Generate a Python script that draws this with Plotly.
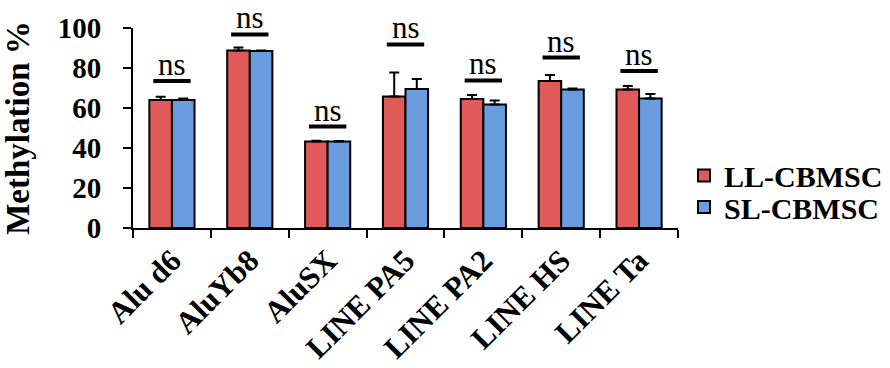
import plotly.graph_objects as go

categories = ["Alu d6", "AluYb8", "AluSX", "LINE PA5", "LINE PA2", "LINE HS", "LINE Ta"]
ll_values = [64.0, 88.7, 43.2, 65.7, 64.5, 73.5, 69.3]
ll_errors = [1.6, 1.6, 0.4, 12.0, 2.0, 3.0, 1.7]
sl_values = [64.0, 88.5, 43.2, 69.5, 61.8, 69.3, 64.8]
sl_errors = [0.7, 0.3, 0.3, 5.0, 2.0, 0.5, 2.2]
sig_labels = ["ns", "ns", "ns", "ns", "ns", "ns", "ns"]
sig_y = [73.5, 96.8, 50.7, 91.8, 73.8, 85.2, 78.5]
y_ticks = [0, 20, 40, 60, 80, 100]

FONT = "Liberation Serif"
RED = "#E05A5A"
BLUE = "#6A9DE0"

fig = go.Figure()
fig.add_trace(go.Bar(
    name="LL-CBMSC", x=categories, y=ll_values, legend="legend",
    marker=dict(color=RED, line=dict(color="black", width=2)),
    error_y=dict(type="data", symmetric=False, array=ll_errors,
                 arrayminus=[0] * len(ll_errors), color="black", thickness=2, width=5),
))
fig.add_trace(go.Bar(
    name="SL-CBMSC", x=categories, y=sl_values, legend="legend2",
    marker=dict(color=BLUE, line=dict(color="black", width=2)),
    error_y=dict(type="data", symmetric=False, array=sl_errors,
                 arrayminus=[0] * len(sl_errors), color="black", thickness=2, width=5),
))

for i, (lab, yv) in enumerate(zip(sig_labels, sig_y)):
    fig.add_shape(type="line", xref="x", yref="y", x0=i - 0.24, x1=i + 0.24,
                  y0=yv, y1=yv, line=dict(color="black", width=4))
    fig.add_annotation(x=i, y=yv, xref="x", yref="y", text=lab, showarrow=False,
                       yanchor="bottom", yshift=-2, borderpad=0,
                       font=dict(family=FONT, size=31, color="black"))

legend_font = dict(family=FONT, size=30, color="black", weight="bold")
fig.update_layout(
    width=890, height=368,
    margin=dict(l=133, r=212, t=28, b=140, autoexpand=False),
    paper_bgcolor="white", plot_bgcolor="white",
    barmode="group", bargap=0.42, bargroupgap=0,
    font=dict(family=FONT, color="black"),
    showlegend=True,
    legend=dict(x=1.011, y=0.262, xanchor="left", yanchor="middle",
                font=legend_font, bgcolor="rgba(0,0,0,0)"),
    legend2=dict(x=1.011, y=0.105, xanchor="left", yanchor="middle",
                 font=legend_font, bgcolor="rgba(0,0,0,0)"),
)
fig.update_xaxes(
    type="category", tickson="boundaries", ticks="outside", ticklen=8, tickwidth=2,
    tickcolor="black", showline=True, linecolor="black", linewidth=2,
    tickangle=-45, tickfont=dict(family=FONT, size=31, color="black", weight="bold"),
    showgrid=False, automargin=False,
)
fig.update_yaxes(
    range=[0, 100], tickvals=y_ticks, ticks="outside", ticklen=8, tickwidth=2,
    tickcolor="black", showline=True, linecolor="black", linewidth=2,
    tickfont=dict(family=FONT, size=29, color="black", weight="bold"),
    ticklabelstandoff=16,
    showgrid=False, zeroline=False, automargin=False,
    title=dict(text="Methylation %", standoff=20,
               font=dict(family=FONT, size=33, color="black", weight="bold")),
)

fig.write_html("out.html", config={"displayModeBar": False},
               post_script="document.body.style.margin='0';document.body.style.overflow='hidden';")
